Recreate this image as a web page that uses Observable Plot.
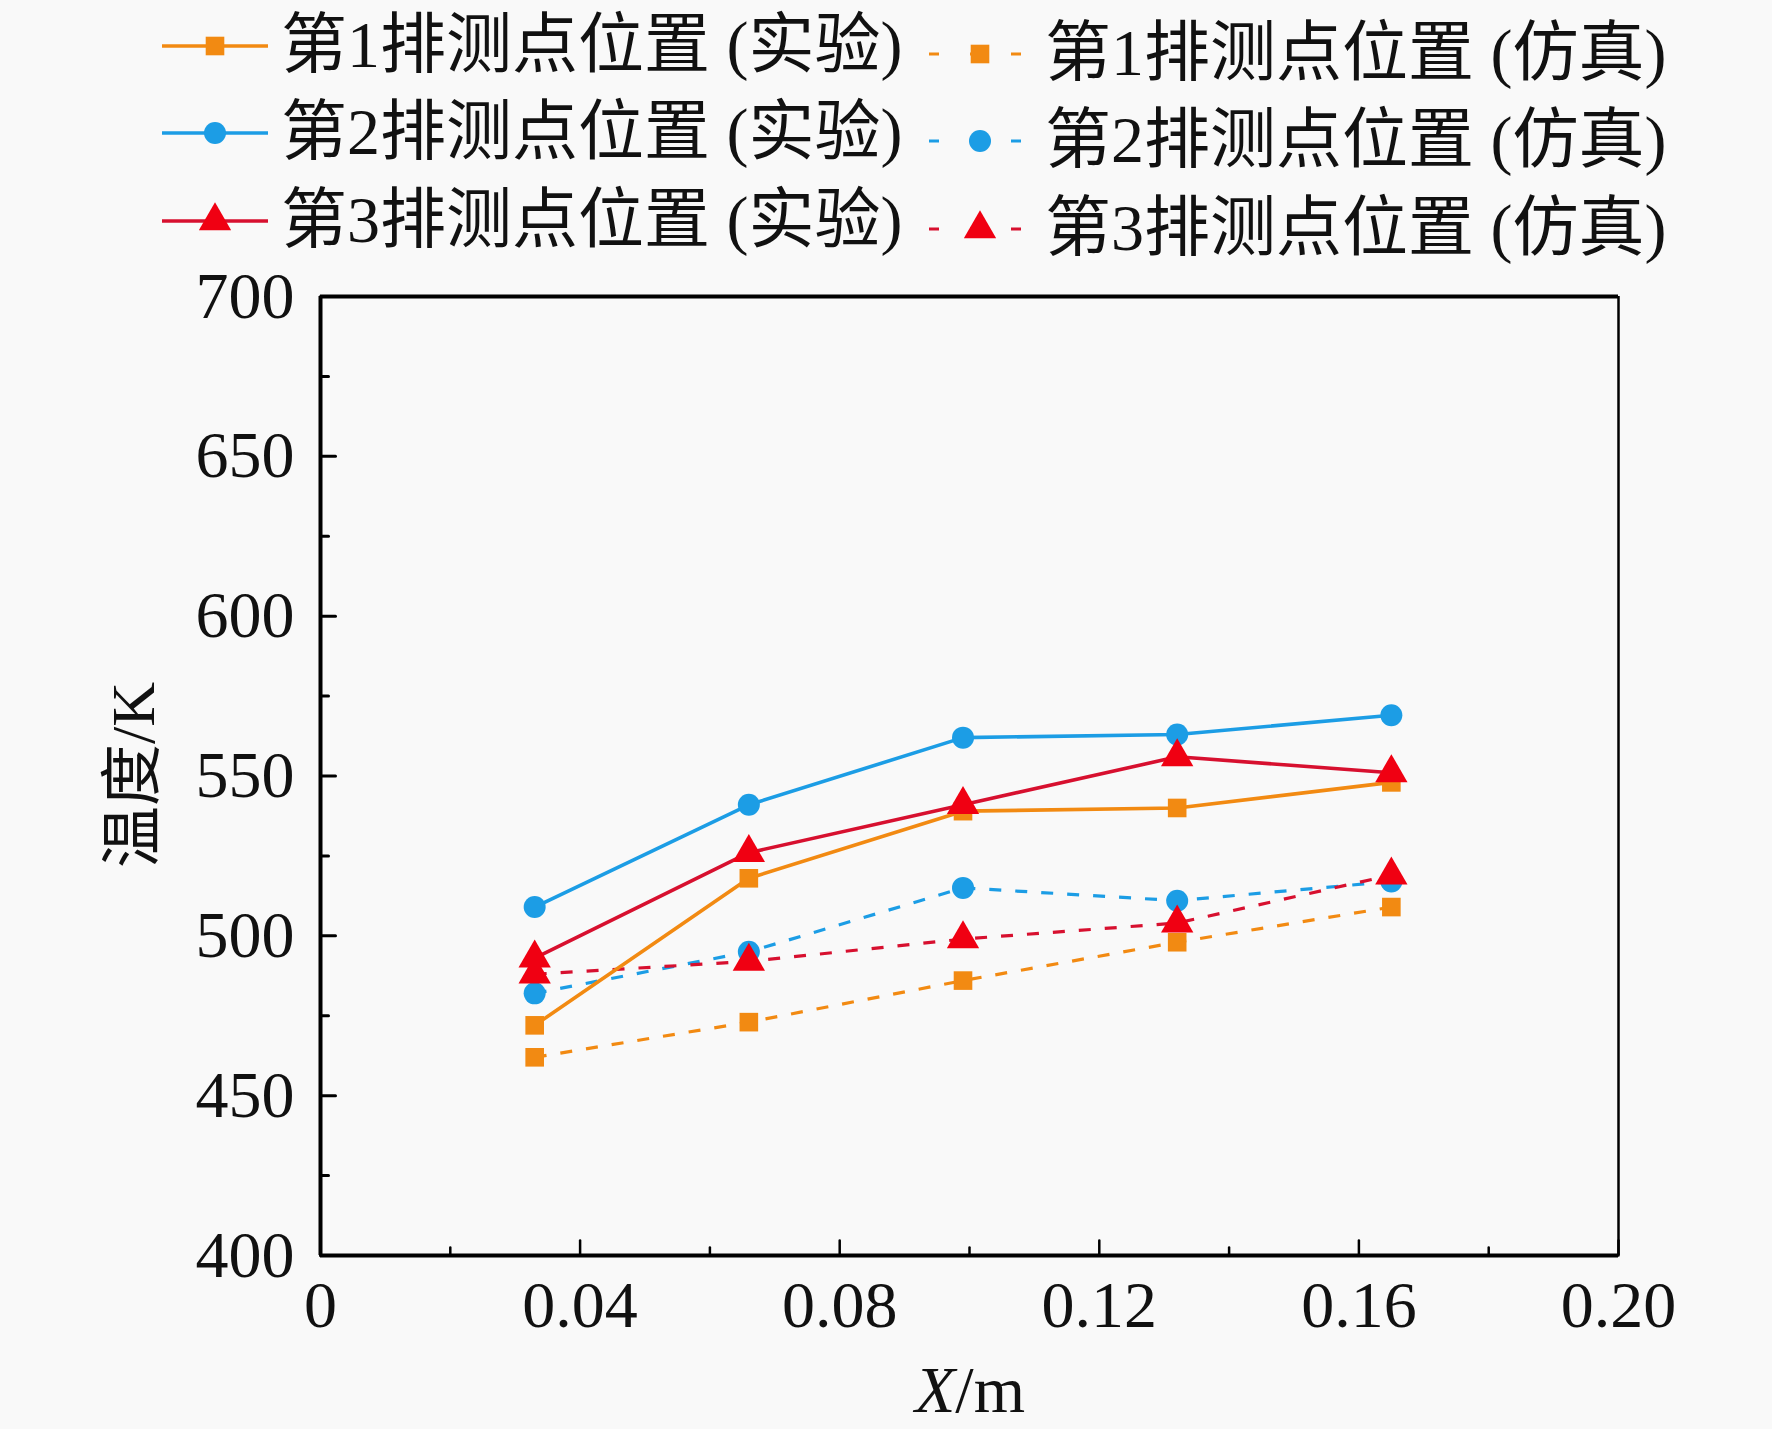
<!DOCTYPE html>
<html><head><meta charset="utf-8">
<script src="https://cdn.jsdelivr.net/npm/d3@7"></script>
<script src="https://cdn.jsdelivr.net/npm/@observablehq/plot@0.6"></script>
<style>
html,body{margin:0;padding:0;background:#f9f9f9;}
#wrap{position:relative;width:1772px;height:1429px;overflow:hidden;}
.t{position:absolute;font-family:"Liberation Serif","Noto Sans CJK SC",serif;color:#111;white-space:nowrap;line-height:1;}
</style></head><body><div id="wrap"></div>
<script>
// ---- data ----
const xPos = [0.033, 0.066, 0.099, 0.132, 0.165];
const exp1 = [472, 518, 539, 540, 548];
const exp2 = [509, 541, 562, 563, 569];
const exp3 = [493, 526, 541, 556, 551];
const sim1 = [462, 473, 486, 498, 509];
const sim2 = [482, 495, 515, 511, 517];
const sim3 = [488, 492, 499, 504, 519];
const seriesNames = ["第1排测点位置 (实验)", "第2排测点位置 (实验)", "第3排测点位置 (实验)",
                     "第1排测点位置 (仿真)", "第2排测点位置 (仿真)", "第3排测点位置 (仿真)"];
const xTicks = [0, 0.04, 0.08, 0.12, 0.16, 0.20];
const xTickLabels = ["0", "0.04", "0.08", "0.12", "0.16", "0.20"];
const xMinor = [0.02, 0.06, 0.10, 0.14, 0.18];
const yTicks = [400, 450, 500, 550, 600, 650, 700];
const yTickLabels = ["400", "450", "500", "550", "600", "650", "700"];
const yMinor = [425, 475, 525, 575, 625, 675];
const xTitle = ["X", "/m"];
const yTitle = "温度/K";

// ---- styles ----
const ORANGE = "#F28A12", BLUE = "#1C9DE5", RED_LINE = "#D7102F", RED_MARK = "#F00012";
const series = [
  {name: seriesNames[0], vals: exp1, color: ORANGE, mark: ORANGE, symbol: "square", r: 10.5, dash: null},
  {name: seriesNames[1], vals: exp2, color: BLUE, mark: BLUE, symbol: "circle", r: 11, dash: null},
  {name: seriesNames[2], vals: exp3, color: RED_LINE, mark: RED_MARK, symbol: "triangle", r: 12, dash: null},
  {name: seriesNames[3], vals: sim1, color: ORANGE, mark: ORANGE, symbol: "square", r: 10.5, dash: "12,14"},
  {name: seriesNames[4], vals: sim2, color: BLUE, mark: BLUE, symbol: "circle", r: 11, dash: "12,14"},
  {name: seriesNames[5], vals: sim3, color: RED_LINE, mark: RED_MARK, symbol: "triangle", r: 12, dash: "12,14"}
];
const rows = s => xPos.map((x, i) => ({x, y: s.vals[i], name: s.name}));

const tickShape = {draw(ctx, l) { ctx.moveTo(0, 0); ctx.lineTo(0, -l); }};
const FONT = "Liberation Serif";

const marks = [];
for (const s of [series[3], series[4], series[5], series[0], series[1], series[2]]) {
  marks.push(Plot.line(rows(s), {x: "x", y: "y", stroke: s.color, strokeWidth: s.dash ? 3.2 : 3.6,
    strokeDasharray: s.dash, strokeLinecap: "butt"}));
  marks.push(Plot.dot(rows(s), {x: "x", y: "y", symbol: () => s.symbol, r: s.r, fill: s.mark, stroke: "none"}));
}
// frame lines
marks.push(Plot.ruleY([400, 700], {stroke: "#000", strokeWidth: 4}));
marks.push(Plot.ruleX([0], {stroke: "#000", strokeWidth: 4}));
marks.push(Plot.ruleX([0.2], {stroke: "#000", strokeWidth: 2.5}));
// inward ticks
marks.push(Plot.vector(xTicks, {x: d => d, y: () => 400, length: 15, rotate: 0, anchor: "start", shape: tickShape, stroke: "#000", strokeWidth: 2.5}));
marks.push(Plot.vector(xMinor, {x: d => d, y: () => 400, length: 8, rotate: 0, anchor: "start", shape: tickShape, stroke: "#000", strokeWidth: 2.5}));
marks.push(Plot.vector(yTicks, {x: () => 0, y: d => d, length: 15, rotate: 90, anchor: "start", shape: tickShape, stroke: "#000", strokeWidth: 3}));
marks.push(Plot.vector(yMinor, {x: () => 0, y: d => d, length: 8, rotate: 90, anchor: "start", shape: tickShape, stroke: "#000", strokeWidth: 3}));
// axes (labels only)
marks.push(Plot.axisX(xTicks, {tickSize: 0, tickPadding: 25, label: null, fontSize: 66, fontFamily: FONT, fill: "#111",
  tickFormat: d => xTickLabels[xTicks.indexOf(d)]}));
marks.push(Plot.axisY(yTicks, {tickSize: 0, tickPadding: 26, label: null, fontSize: 66, fontFamily: FONT, fill: "#111",
  tickFormat: d => yTickLabels[yTicks.indexOf(d)]}));

const chart = Plot.plot({
  width: 1772, height: 1429,
  marginLeft: 320, marginRight: 154, marginTop: 296, marginBottom: 174,
  x: {domain: [0, 0.2]},
  y: {domain: [400, 700]},
  style: {background: "#f9f9f9", fontFamily: FONT, overflow: "visible"},
  marks
});
const wrap = document.getElementById("wrap");
chart.style.position = "absolute"; chart.style.left = "0"; chart.style.top = "0";
wrap.appendChild(chart);

// axis titles
const yt = document.createElement("div");
yt.className = "t"; yt.textContent = yTitle;
yt.style.fontSize = "62px";
yt.style.left = "133px"; yt.style.top = "775px";
yt.style.transform = "translate(-50%,-50%) rotate(-90deg)";
wrap.appendChild(yt);
const xt = document.createElement("div");
xt.className = "t";
xt.innerHTML = `<span style="font-style:italic">${xTitle[0]}</span>${xTitle[1]}`;
xt.style.fontSize = "66px";
xt.style.left = "970px"; xt.style.top = "1390px";
xt.style.transform = "translate(-50%,-50%)";
wrap.appendChild(xt);

// legend
const legendCols = [{x0: 162, x1: 268, tx: 281, dy: 0}, {x0: 929, x1: 1031, tx: 1045, dy: 8}];
const rowY = [46, 133, 221];
series.forEach((s, i) => {
  const col = legendCols[Math.floor(i / 3)], cy = rowY[i % 3] + col.dy;
  const w = col.x1 - col.x0;
  const svg = d3.create("svg").attr("width", w).attr("height", 40)
    .style("position", "absolute").style("left", col.x0 + "px").style("top", (cy - 20) + "px").style("overflow", "visible");
  svg.append("line").attr("x1", 0).attr("x2", w).attr("y1", 20).attr("y2", 20)
    .attr("stroke", s.color).attr("stroke-width", s.dash ? 3.2 : 3.6)
    .attr("stroke-dasharray", s.dash ? "10,31" : null);
  const sym = {square: d3.symbolSquare, circle: d3.symbolCircle, triangle: d3.symbolTriangle}[s.symbol];
  const area = s.symbol === "square" ? Math.pow(s.r * Math.sqrt(Math.PI), 2) : Math.PI * s.r * s.r;
  svg.append("path").attr("d", d3.symbol(sym, area)()).attr("transform", `translate(${w / 2},20)`).attr("fill", s.mark);
  wrap.appendChild(svg.node());
  const t = document.createElement("div");
  t.className = "t"; t.textContent = s.name;
  t.style.fontSize = "66px"; t.style.left = col.tx + "px"; t.style.top = (cy - 34) + "px";
  wrap.appendChild(t);
});
</script></body></html>
